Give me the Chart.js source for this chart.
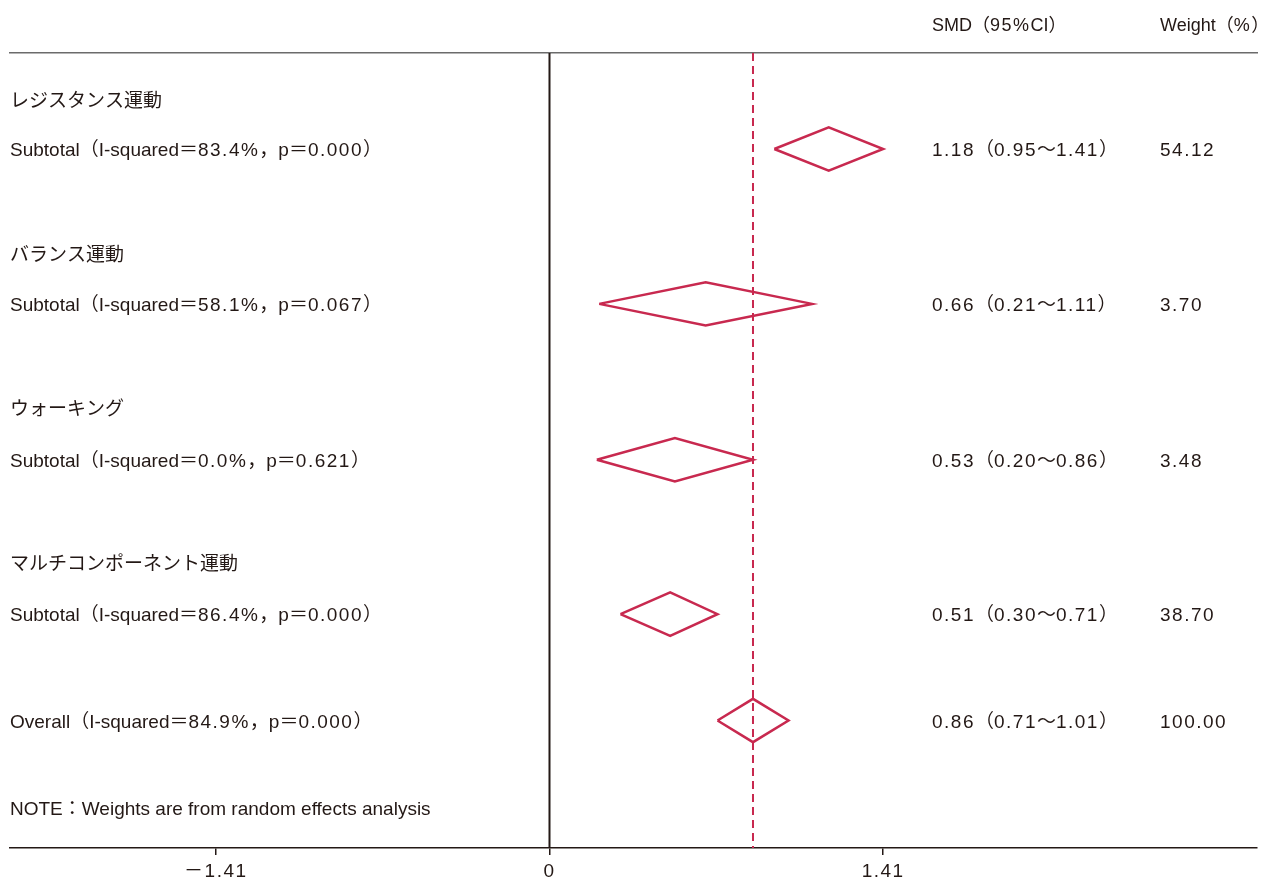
<!DOCTYPE html>
<html>
<head>
<meta charset="utf-8">
<script src="https://cdn.jsdelivr.net/npm/chart.js@4/dist/chart.umd.min.js"></script>
<style>
  body { margin: 0; background: #fff; }
  #wrap { width: 1269px; height: 883px; }
</style>
</head>
<body>
<div id="wrap"><canvas id="forest"></canvas></div>
<script>
// subgroup data
const groupLabels = ['レジスタンス運動', 'バランス運動', 'ウォーキング', 'マルチコンポーネント運動'];
const subtotalLabels = [
    'Subtotal（I-squared＝83.4%，p＝0.000）',
    'Subtotal（I-squared＝58.1%，p＝0.067）',
    'Subtotal（I-squared＝0.0%，p＝0.621）',
    'Subtotal（I-squared＝86.4%，p＝0.000）',
];
const smd = [1.18, 0.66, 0.53, 0.51];
const ciLow = [0.95, 0.21, 0.20, 0.30];
const ciHigh = [1.41, 1.11, 0.86, 0.71];
const smdText = ['1.18（0.95～1.41）', '0.66（0.21～1.11）', '0.53（0.20～0.86）', '0.51（0.30～0.71）'];
const weightText = ['54.12', '3.70', '3.48', '38.70'];

// overall
const overallLabel = 'Overall（I-squared＝84.9%，p＝0.000）';
const overallSmd = 0.86;
const overallLow = 0.71;
const overallHigh = 1.01;
const overallSmdText = '0.86（0.71～1.01）';
const overallWeightText = '100.00';

const noteText = 'NOTE：Weights are from random effects analysis';
const headers = ['SMD（95%CI）', 'Weight（%）'];

// row positions (row units, top to bottom)
const groupRows = [0.9, 3.88, 6.88, 9.88];
const subtotalRows = [1.86, 4.86, 7.88, 10.87];
const overallRow = 12.93;
const noteRow = 14.63;
const rowMax = 15.4;

// axis
const tickValues = [-1.41, 0, 1.41];
const tickLabels = ['－1.41', '0', '1.41'];
const xMin = -2.28;
const xMax = 2.99;

const RED = '#c8294f';
const INK = '#231815';
const FONT = '"Liberation Sans", "Noto Sans CJK JP"';
const NUM_SPACING = '1.5px';
const DIAMOND_H = 0.42;

function diamond(lo, est, hi, row) {
    return {
        data: [
            { x: lo, y: row },
            { x: est, y: row - DIAMOND_H },
            { x: hi, y: row },
            { x: est, y: row + DIAMOND_H },
            { x: lo, y: row },
        ],
        showLine: true,
        borderColor: RED,
        borderWidth: 2.5,
        borderJoinStyle: 'miter',
        pointRadius: 0,
        fill: false,
        tension: 0,
    };
}

const datasets = [
    {
        data: [{ x: 0, y: 0 }, { x: 0, y: rowMax }],
        showLine: true,
        borderColor: INK,
        borderWidth: 2,
        pointRadius: 0,
    },
    {
        data: [{ x: overallSmd, y: 0 }, { x: overallSmd, y: rowMax }],
        showLine: true,
        borderColor: RED,
        borderWidth: 2,
        borderDash: [8, 5],
        pointRadius: 0,
    },
];
smd.forEach((v, i) => datasets.push(diamond(ciLow[i], v, ciHigh[i], subtotalRows[i])));
datasets.push(diamond(overallLow, overallSmd, overallHigh, overallRow));

// numbers in the source are set a little looser than the words
function drawRich(ctx, text, x, y) {
    let cx = x;
    text.match(/[0-9.%]+|[^0-9.%]+/g).forEach(run => {
        ctx.letterSpacing = /^[0-9.%]+$/.test(run) ? NUM_SPACING : '0px';
        ctx.fillText(run, cx, y);
        cx += ctx.measureText(run).width;
    });
    ctx.letterSpacing = '0px';
}

const textPlugin = {
    id: 'forestText',
    beforeDraw(chart) {
        chart.ctx.letterSpacing = NUM_SPACING; // tick labels
    },
    afterDraw(chart) {
        const { ctx, chartArea, scales } = chart;
        const y = scales.y;
        const left = chartArea.left;
        const colSmd = 932;
        const colWeight = 1160;
        const dy = 2;

        ctx.save();
        ctx.fillStyle = INK;
        ctx.textBaseline = 'middle';
        ctx.textAlign = 'left';

        ctx.font = '18px ' + FONT;
        drawRich(ctx, headers[0], colSmd, chartArea.top - 27);
        drawRich(ctx, headers[1], colWeight, chartArea.top - 27);

        ctx.font = '19px ' + FONT;
        groupLabels.forEach((t, i) => drawRich(ctx, t, left, y.getPixelForValue(groupRows[i]) + dy));
        subtotalLabels.forEach((t, i) => {
            const py = y.getPixelForValue(subtotalRows[i]) + dy;
            drawRich(ctx, t, left, py);
            drawRich(ctx, smdText[i], colSmd, py);
            drawRich(ctx, weightText[i], colWeight, py);
        });

        const oy = y.getPixelForValue(overallRow) + dy;
        drawRich(ctx, overallLabel, left, oy);
        drawRich(ctx, overallSmdText, colSmd, oy);
        drawRich(ctx, overallWeightText, colWeight, oy);

        drawRich(ctx, noteText, left, y.getPixelForValue(noteRow) + dy);
        ctx.restore();
    },
};

new Chart(document.getElementById('forest'), {
    type: 'scatter',
    data: { datasets },
    options: {
        responsive: true,
        maintainAspectRatio: false,
        animation: false,
        layout: {
            padding: { left: 10, right: 12, top: 53, bottom: 0 },
        },
        scales: {
            x: {
                type: 'linear',
                position: 'bottom',
                min: xMin,
                max: xMax,
                afterBuildTicks: (axis) => {
                    axis.ticks = tickValues.map(v => ({ value: v }));
                },
                afterFit: (axis) => {
                    axis.height = 35;
                },
                ticks: {
                    autoSkip: false,
                    maxRotation: 0,
                    padding: 5,
                    color: INK,
                    font: { family: FONT, size: 19 },
                    callback: (value, index) => tickLabels[index],
                },
                grid: {
                    drawOnChartArea: false,
                    drawTicks: true,
                    tickLength: 7,
                    color: INK,
                    lineWidth: 1.5,
                },
                border: { display: true, color: INK, width: 1.5 },
            },
            xTop: {
                type: 'linear',
                position: 'top',
                min: xMin,
                max: xMax,
                afterFit: (axis) => {
                    axis.height = 0;
                },
                ticks: { display: false },
                grid: { drawOnChartArea: false, drawTicks: false },
                border: { display: true, color: '#6b6b6b', width: 1.5 },
            },
            y: {
                type: 'linear',
                display: false,
                reverse: true,
                min: 0,
                max: rowMax,
            },
        },
        plugins: {
            legend: { display: false },
            tooltip: { enabled: false },
        },
    },
    plugins: [textPlugin],
});
</script>
</body>
</html>
